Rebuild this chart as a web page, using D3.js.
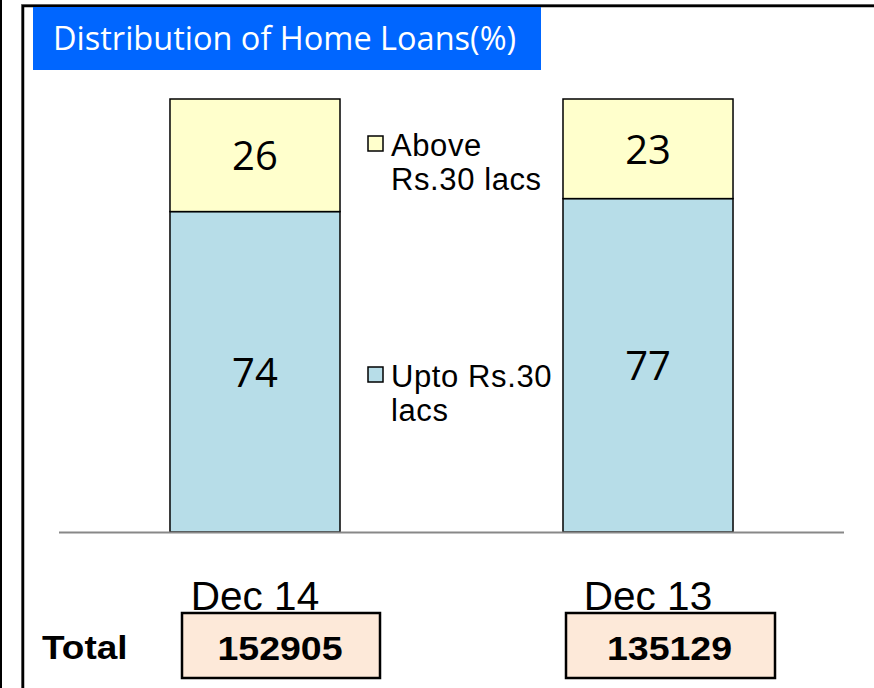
<!DOCTYPE html>
<html>
<head>
<meta charset="utf-8">
<script src="https://cdn.jsdelivr.net/npm/d3@7"></script>
<style>
  html, body { margin: 0; padding: 0; background: #fff; }
  svg { display: block; }
</style>
</head>
<body>
<div id="chart"></div>
<script>
// data
const categories = ["Dec 14", "Dec 13"];
const uptoValues = [74, 77];
const aboveValues = [26, 23];
const totals = [152905, 135129];
const seriesNames = [["Above", "Rs.30 lacs"], ["Upto Rs.30", "lacs"]];

const width = 874, height = 688;
const colors = { upto: "#b7dde8", above: "#ffffcc", title: "#0066ff", total: "#fde9d9" };
const arial = "'Liberation Sans', Arial, sans-serif";

const svg = d3.select("#chart")
    .append("svg")
    .attr("width", width)
    .attr("height", height)
    .attr("viewBox", "0 0 " + width + " " + height);

// frame lines
svg.append("line")
    .attr("x1", 1).attr("x2", 1).attr("y1", 0).attr("y2", height)
    .attr("stroke", "#000").attr("stroke-width", 2);
svg.append("rect")
    .attr("x", 21.5).attr("y", 4.5).attr("width", 900).attr("height", 720)
    .attr("fill", "none").attr("stroke", "#777").attr("stroke-width", 1);
svg.append("rect")
    .attr("x", 23).attr("y", 6).attr("width", 900).attr("height", 720)
    .attr("fill", "none").attr("stroke", "#000").attr("stroke-width", 2.5);

// title
svg.append("rect")
    .attr("x", 33).attr("y", 7).attr("width", 508).attr("height", 63)
    .attr("fill", colors.title);
svg.append("text")
    .attr("x", 53).attr("y", 50)
    .attr("font-family", "'Open Sans', sans-serif")
    .attr("font-size", "32.5px")
    .attr("fill", "#fff")
    .text("Distribution of Home Loans(%)");

// scales
const x = d3.scaleBand()
    .domain(categories)
    .range([59, 844])
    .paddingInner(0.5674)
    .paddingOuter(0.2824);

const y = d3.scaleLinear()
    .domain([0, 100])
    .range([532, 99]);

const rows = categories.map((c, i) => ({ cat: c, upto: uptoValues[i], above: aboveValues[i] }));
const stacked = d3.stack().keys(["upto", "above"])(rows);

const layers = svg.append("g").attr("class", "bars")
    .selectAll("g")
    .data(stacked)
    .enter().append("g")
    .attr("fill", d => colors[d.key]);

layers.selectAll("rect")
    .data(d => d)
    .enter().append("rect")
    .attr("x", d => x(d.data.cat))
    .attr("width", x.bandwidth())
    .attr("y", d => y(d[1]))
    .attr("height", d => y(d[0]) - y(d[1]))
    .attr("stroke", "#000")
    .attr("stroke-width", 1.5);

layers.selectAll("text")
    .data(d => d.map(p => ({ p: p, key: d.key })))
    .enter().append("text")
    .attr("x", d => x(d.p.data.cat) + x.bandwidth() / 2)
    .attr("y", d => (y(d.p[0]) + y(d.p[1])) / 2 + 15)
    .attr("text-anchor", "middle")
    .attr("font-family", "'Open Sans', sans-serif")
    .attr("font-size", "40px")
    .attr("fill", "#000")
    .text(d => d.p.data[d.key]);

// baseline
svg.append("line")
    .attr("x1", 59).attr("x2", 844).attr("y1", 532.5).attr("y2", 532.5)
    .attr("stroke", "#888").attr("stroke-width", 2);

// legend
const legendY = [136, 367];
const legendKeys = ["above", "upto"];
const legend = svg.append("g").attr("class", "legend")
    .selectAll("g")
    .data(legendKeys)
    .enter().append("g")
    .attr("transform", (d, i) => "translate(368," + legendY[i] + ")");

legend.append("rect")
    .attr("width", 15).attr("height", 15)
    .attr("fill", d => colors[d])
    .attr("stroke", "#000").attr("stroke-width", 1.5);

legend.each(function (d, i) {
    const t = d3.select(this).append("text")
        .attr("font-family", arial)
        .attr("font-size", "31px")
        .attr("letter-spacing", "0.6px")
        .attr("fill", "#000");
    seriesNames[i].forEach((line, j) => {
        t.append("tspan").attr("x", 23).attr("y", 20 + j * 34).text(line);
    });
});

// category labels
svg.append("g").selectAll("text")
    .data(categories)
    .enter().append("text")
    .attr("x", d => x(d) + x.bandwidth() / 2)
    .attr("y", 610)
    .attr("text-anchor", "middle")
    .attr("font-family", arial)
    .attr("font-size", "40.5px")
    .attr("fill", "#000")
    .text(d => d);

// totals (glyphs are a bit wide in the original, so stretch them)
const stretch = 1.12;
svg.append("text")
    .attr("transform", "translate(42,659) scale(" + stretch + ",1)")
    .attr("font-family", arial)
    .attr("font-size", "33px")
    .attr("font-weight", "bold")
    .text("Total");

const boxX = [182, 566], boxW = [198, 209];
const totalG = svg.append("g").selectAll("g")
    .data(totals)
    .enter().append("g");

totalG.append("rect")
    .attr("x", (d, i) => boxX[i])
    .attr("y", 613)
    .attr("width", (d, i) => boxW[i])
    .attr("height", 65)
    .attr("fill", colors.total)
    .attr("stroke", "#000")
    .attr("stroke-width", 2.5);

totalG.append("text")
    .attr("transform", (d, i) => "translate(" + (boxX[i] + boxW[i] / 2 - 1) + ",660) scale(" + stretch + ",1)")
    .attr("text-anchor", "middle")
    .attr("font-family", arial)
    .attr("font-size", "33.5px")
    .attr("font-weight", "bold")
    .text(d => d);
</script>
</body>
</html>
